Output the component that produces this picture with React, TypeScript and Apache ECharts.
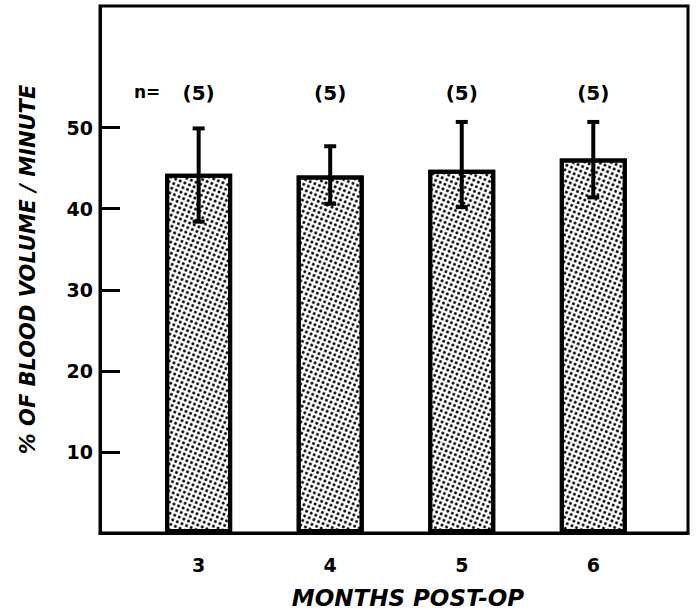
import React, { useEffect, useRef } from 'react';
import * as echarts from 'echarts';

const months = [3, 4, 5, 6];
const means = [44.3, 44.1, 44.8, 46.2];
const errUpper = [49.9, 47.7, 50.7, 50.7];
const errLower = [38.4, 40.6, 40.2, 41.4];
const nCounts = [5, 5, 5, 5];
const yTicks = [10, 20, 30, 40, 50];
const nLabelY = 54.3;
const yTitle = '% OF BLOOD VOLUME / MINUTE';
const xTitle = 'MONTHS POST-OP';

export default function App() {
  const ref = useRef<HTMLDivElement>(null);
  useEffect(() => {
    const chart = echarts.init(ref.current!, null, { renderer: 'svg' });
    const font = 'DejaVu Sans';
    chart.setOption({
      animation: false,
      backgroundColor: '#fff',
      grid: {
        left: 100, top: 6, right: 10, bottom: 83,
        show: true, borderColor: '#000', borderWidth: 3, backgroundColor: 'transparent',
      },
      xAxis: {
        type: 'value', min: 2.25, max: 6.72,
        splitLine: { show: false },
        axisLine: { show: true, lineStyle: { color: '#000', width: 3 } },
        axisTick: { show: false },
        axisLabel: {
          customValues: months,
          formatter: (v: number) => String(v),
          color: '#000', fontFamily: font, fontWeight: 'bold', fontSize: 19, margin: 22,
        },
      },
      yAxis: {
        type: 'value', min: 0, max: 65,
        splitLine: { show: false },
        axisLine: { show: true, lineStyle: { color: '#000', width: 3 } },
        axisTick: { show: true, customValues: yTicks, inside: true, length: 20, lineStyle: { color: '#000', width: 3 } },
        axisLabel: {
          customValues: yTicks,
          formatter: (v: number) => String(v),
          color: '#000', fontFamily: font, fontWeight: 'bold', fontSize: 19, margin: 7,
        },
        name: yTitle,
        nameLocation: 'middle',
        nameGap: 62,
        nameTextStyle: { color: '#000', fontFamily: font, fontWeight: 'bold', fontStyle: 'italic', fontSize: 21 },
      },
      graphic: [
        { type: 'text', left: 134, top: 83, style: { text: 'n=', fill: '#000', font: 'bold 17px "DejaVu Sans"' } },
        {
          type: 'text', x: 408, y: 598,
          style: { text: xTitle, fill: '#000', font: 'italic bold 23px "DejaVu Sans"', textAlign: 'center', textVerticalAlign: 'middle' },
        },
      ],
      series: [
        {
          type: 'bar',
          data: months.map((m, i) => [m, means[i]]),
          barWidth: 67,
          itemStyle: {
            color: '#fff', borderColor: '#000', borderWidth: 4,
            decal: { symbol: 'circle', symbolSize: 1, dashArrayX: [2.4, 1.8], dashArrayY: [2.4, 1.8], color: '#000', rotation: 0.4 },
          },
          z: 2,
        },
        {
          type: 'custom',
          data: months.map((m, i) => [m, errLower[i], errUpper[i], means[i]]),
          renderItem: (params: any, api: any) => {
            const x = api.value(0);
            const lo = api.coord([x, api.value(1)]);
            const hi = api.coord([x, api.value(2)]);
            const st = { stroke: '#000', lineWidth: 4 };
            return {
              type: 'group',
              children: [
                { type: 'line', shape: { x1: lo[0], y1: lo[1], x2: hi[0], y2: hi[1] }, style: st },
                { type: 'line', shape: { x1: hi[0] - 6, y1: hi[1], x2: hi[0] + 6, y2: hi[1] }, style: st },
                { type: 'line', shape: { x1: lo[0] - 6, y1: lo[1], x2: lo[0] + 6, y2: lo[1] }, style: st },
              ],
            };
          },
          z: 3,
        },
        {
          type: 'scatter',
          data: months.map((m, i) => [m, nLabelY, nCounts[i]]),
          symbolSize: 0,
          itemStyle: { opacity: 1 },
          label: {
            show: true, position: 'inside',
            formatter: (p: any) => '(' + p.value[2] + ')',
            color: '#000', opacity: 1, fontFamily: font, fontWeight: 'bold', fontSize: 20,
          },
          emphasis: { disabled: true },
          z: 4,
        },
      ],
    });
    return () => chart.dispose();
  }, []);
  return <div ref={ref} style={{ position: 'fixed', left: 0, top: 0, width: 698, height: 616 }} />;
}
